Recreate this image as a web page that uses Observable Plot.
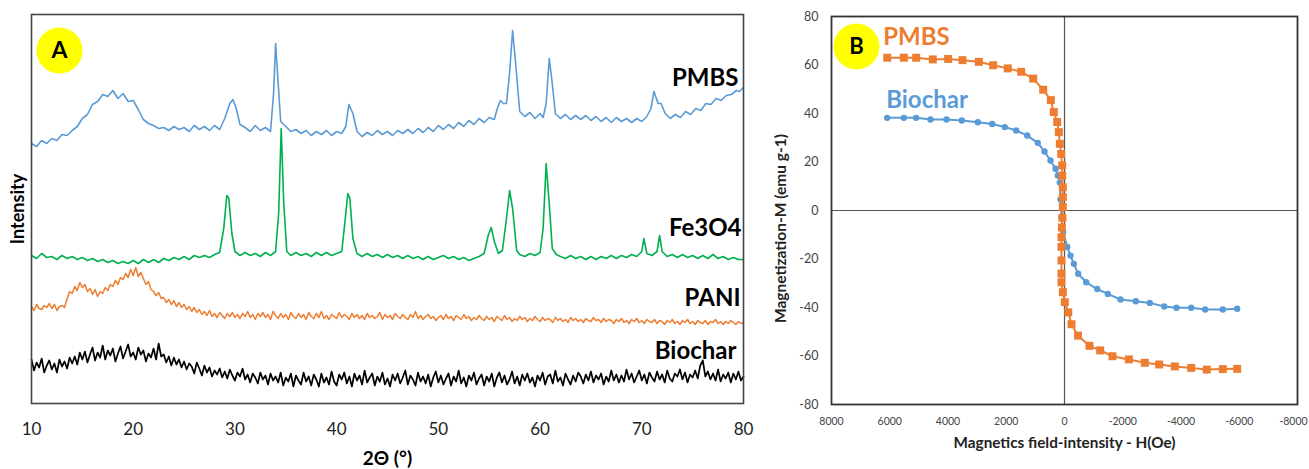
<!DOCTYPE html>
<html>
<head>
<meta charset="utf-8">
<script src="https://cdn.jsdelivr.net/npm/d3@7"></script>
<script src="https://cdn.jsdelivr.net/npm/@observablehq/plot@0.6"></script>
<style>
  html, body { margin: 0; padding: 0; background: #fff; }
  #wrap { position: relative; width: 1309px; height: 469px; overflow: hidden; font-family: Lato, "Open Sans", sans-serif; }
  #panelA { position: absolute; left: 0; top: 0; }
  #panelB { position: absolute; left: 770px; top: 0; }
</style>
</head>
<body>
<div id="wrap"><div id="panelA"></div><div id="panelB"></div></div>
<script>
// ---------- Panel A: XRD patterns (intensity in arbitrary, stacked units) ----------
const xrdTicks = [10, 20, 30, 40, 50, 60, 70, 80];
const xrdSamples = ["PMBS", "Fe3O4", "PANI", "Biochar"];

const pmbsAngle = [10,10.5,11,11.5,12,12.5,13,13.5,14,14.5,15,15.5,16,16.5,17,17.5,18,18.5,19,19.5,20,20.5,21,21.5,22,22.5,23,23.5,24,24.5,25,25.5,26,26.5,27,27.5,28,28.5,29,29.5,29.8,30.1,30.5,31,31.5,32,32.5,33,33.5,33.8,34.0,34.2,34.5,35,35.5,36,36.5,37,37.5,38,38.5,39,39.5,40,40.5,40.9,41.2,41.6,42,42.5,43,43.5,44,44.5,45,45.5,46,46.5,47,47.5,48,48.5,49,49.5,50,50.5,51,51.5,52,52.5,53,53.5,54,54.5,55,55.5,55.8,56.1,56.4,56.7,57.0,57.3,57.6,58,58.5,59,59.5,60,60.3,60.6,60.9,61.2,61.5,62,62.5,63,63.5,64,64.5,65,65.5,66,66.5,67,67.5,68,68.5,69,69.5,70,70.5,70.9,71.2,71.6,71.9,72.3,72.8,73.3,73.8,74.3,74.8,75.3,75.8,76.3,76.8,77.3,77.8,78.3,78.8,79.3,79.6,80];
const pmbsIntensity = [260,257,263,260,265,263,269,268,273,277,285,289,299,302,309,307,313,305,310,302,303,294,284,280,278,275,276,273,277,274,276,272,278,274,277,273,278,274,285,300,304,296,279,276,272,278,273,276,272,310,360,328,282,277,272,274,270,273,268,272,269,273,268,272,270,277,299,290,272,267,271,268,273,269,272,268,273,270,274,270,275,271,276,272,278,274,279,275,281,277,283,279,285,281,286,284,295,303,300,300,330,373,340,292,287,291,285,290,286,300,345,320,290,285,289,284,288,284,288,283,287,282,286,281,286,282,285,281,285,282,287,295,312,300,300,290,285,289,286,292,289,295,293,300,299,305,303,308,309,313,312,316,318];

const fe3o4Angle = [10,10.5,11,11.5,12,12.5,13,13.5,14,14.5,15,15.5,16,16.5,17,17.5,18,18.5,19,19.5,20,20.5,21,21.5,22,22.5,23,23.5,24,24.5,25,25.5,26,26.5,27,27.5,28,28.5,28.9,29.2,29.4,29.7,30,30.5,31,31.5,32,32.5,33,33.5,34,34.3,34.55,34.8,35.1,35.5,36,36.5,37,37.5,38,38.5,39,39.5,40,40.5,40.8,41.1,41.3,41.6,42,42.5,43,43.5,44,44.5,45,45.5,46,46.5,47,47.5,48,48.5,49,49.5,50,50.5,51,51.5,52,52.5,53,53.5,54,54.5,54.9,55.2,55.5,55.9,56.3,56.7,57.0,57.3,57.7,58,58.5,59,59.5,60,60.3,60.6,60.9,61.2,61.6,62,62.5,63,63.5,64,64.5,65,65.5,66,66.5,67,67.5,68,68.5,69,69.5,70,70.2,70.5,71,71.5,71.75,72,72.5,73,73.5,74,74.5,75,75.5,76,76.5,77,77.5,78,78.5,79,79.5,80];
const fe3o4Intensity = [148,145,150,146,147,144,148,145,147,144,146,143,145,142,144,141,143,140,142,140,143,140,144,141,144,141,145,143,146,144,147,144,148,146,148,146,149,151,175,208,205,170,152,148,151,148,150,147,151,148,152,190,275,200,152,148,151,148,150,147,151,148,151,148,150,152,180,210,205,165,150,147,150,147,149,146,149,146,148,145,148,145,147,144,147,144,146,148,145,147,144,146,143,145,147,150,168,176,162,150,153,185,213,195,153,149,147,150,148,151,175,240,200,155,149,147,145,148,145,147,144,147,144,147,145,148,145,148,146,149,147,152,165,150,148,152,168,152,147,149,146,149,146,148,145,148,145,149,145,147,144,146,144,144];

// PANI and Biochar are read on a regular 0.25° grid
const paniAngle = d3.range(0, 281).map(i => 10 + i * 0.25);
const paniIntensity = [
97,93,99,95, 94,98,96,100, 95,99,93,97, 98,96,105,112, 110,117,113,121, 116,119,112,115, 109,114,107,112, 110,116,113,119, 117,123,119,126, 124,130,126,134,
128,136,127,131, 125,119,122,114, 112,108,111,105, 106,101,104,99, 103,97,101,96, 99,94,97,92, 96,91,94,89, 92,88,93,87, 90,86,91,88, 85,90,87,91,
86,89,85,90, 87,92,86,89, 84,90,87,91, 86,89,84,92, 88,85,90,86, 89,84,91,87, 85,90,86,89, 84,91,87,85, 90,86,92,85, 88,84,89,87,
85,91,86,89, 87,84,90,86, 89,85,88,84, 90,86,88,85, 87,91,84,89, 86,88,84,90, 87,85,89,86, 84,89,86,92, 85,88,84,87, 89,85,87,83,
86,88,84,89, 85,87,83,88, 86,84,89,85, 87,83,86,84, 88,85,83,87, 84,86,82,87, 85,83,88,84, 86,82,85,83, 87,84,86,82, 85,83,87,84,
82,86,83,85, 84,81,86,83, 85,82,84,81, 86,83,85,82, 84,81,85,83, 82,86,83,84, 81,85,82,84, 83,80,84,82, 85,81,83,80, 84,82,85,81,
83,80,84,82, 81,84,80,83, 82,79,83,81, 84,80,82,79, 83,81,84,80, 82,79,83,81, 80,83,79,82, 81,84,80,82, 79,82,80,83, 81,79,82,80, 81];

const biocharAngle = d3.range(0, 281).map(i => 10 + i * 0.25);
const biocharIntensity = [
44,33,41,36, 45,31,38,43, 34,40,31,44, 37,42,35,46, 40,47,39,51, 44,52,41,49, 56,43,51,46, 58,44,53,48, 55,42,50,57, 45,52,59,47,
51,44,56,49, 53,42,50,46, 55,44,60,47, 49,41,47,38, 46,39,44,36, 42,34,40,37, 30,41,35,28, 38,31,36,27, 33,29,35,26, 32,25,34,28,
23,31,27,35, 24,29,21,30, 26,20,31,24, 28,19,30,23, 27,21,31,18, 26,22,30,17, 28,23,19,31, 22,27,18,29, 24,17,30,21, 26,19,32,22,
18,29,24,31, 20,27,17,30, 23,28,19,33, 21,26,30,18, 27,22,31,19, 25,17,29,23, 30,20,26,33, 19,28,24,18, 31,22,27,20, 29,17,26,32,
21,28,19,25, 30,18,27,22, 33,20,26,17, 28,23,31,19, 25,29,18,27, 22,30,17,26, 31,21,28,19, 24,32,20,27, 18,29,23,30, 21,26,17,28,
23,31,19,27, 29,20,33,22, 26,18,30,24, 19,28,22,31, 27,20,29,23, 32,21,28,24, 30,19,27,22, 33,23,29,21, 28,22,34,24, 30,21,27,33,
23,29,20,31, 26,22,32,24, 29,21,33,25, 22,30,27,34, 24,31,21,29, 26,33,25,38, 43,27,32,24, 30,23,34,22, 29,25,31,21, 30,24,32,23, 27];

const xrdColors = { PMBS: "#5B9BD5", Fe3O4: "#00B050", PANI: "#ED7D31", Biochar: "#000000" };
const xrdWidths = { PMBS: 1.6, Fe3O4: 1.6, PANI: 1.5, Biochar: 1.7 };
// label offsets (px) relative to the last point of each trace
const xrdLabelDy = { PMBS: -9, Fe3O4: -31, PANI: -24, Biochar: -25 };
const xrdLabelDx = { PMBS: -5, Fe3O4: -2, PANI: -3, Biochar: -7 };

const rows = (angles, values, name) => angles.map((a, i) => ({ angle: a, intensity: values[i], sample: name }));
const xrdSeries = {
  PMBS: rows(pmbsAngle, pmbsIntensity, "PMBS"),
  Fe3O4: rows(fe3o4Angle, fe3o4Intensity, "Fe3O4"),
  PANI: rows(paniAngle, paniIntensity, "PANI"),
  Biochar: rows(biocharAngle, biocharIntensity, "Biochar")
};

const font = "Lato, 'Open Sans', sans-serif";

const xrdMarks = [
  Plot.axisX({ ticks: xrdTicks, tickSize: 0, tickPadding: 19, fontSize: 17, fill: "#222", label: null }),
  Plot.axisY({ ticks: [], label: null })
];
for (const s of xrdSamples) {
  xrdMarks.push(Plot.line(xrdSeries[s], { x: "angle", y: "intensity", stroke: xrdColors[s], strokeWidth: xrdWidths[s] }));
}
for (const s of xrdSamples) {
  const last = xrdSeries[s][xrdSeries[s].length - 1];
  xrdMarks.push(Plot.text([last], {
    x: "angle", y: "intensity", text: d => d.sample, textAnchor: "end",
    dx: xrdLabelDx[s], dy: xrdLabelDy[s], fontSize: 24, fontWeight: "bold", fill: "#000"
  }));
}
xrdMarks.push(
  Plot.frame({ stroke: "#444", strokeWidth: 1.6 }),
  Plot.dot(["A"], { frameAnchor: "top-left", dx: 28, dy: 36, r: 23, fill: "#FFFF00", stroke: "none" }),
  Plot.text(["A"], { frameAnchor: "top-left", dx: 28, dy: 36, textAnchor: "middle", lineAnchor: "middle", text: d => d, fontSize: 23, fontWeight: "bold", fill: "#000" }),
  Plot.text(["2Θ (°)"], { frameAnchor: "bottom", dy: 55, textAnchor: "middle", lineAnchor: "middle", text: d => d, fontSize: 19, fontWeight: "bold", fill: "#000" }),
  Plot.text(["Intensity"], { frameAnchor: "left", dx: -13, rotate: -90, textAnchor: "middle", lineAnchor: "middle", text: d => d, fontSize: 18, fontWeight: "bold", fill: "#000" })
);

const plotA = Plot.plot({
  width: 770, height: 469,
  marginLeft: 31, marginRight: 27, marginTop: 14, marginBottom: 66,
  style: { fontFamily: font, background: "#fff", overflow: "visible" },
  x: { domain: [10, 80] },
  y: { domain: [0, 389] },
  marks: xrdMarks
});
document.getElementById("panelA").appendChild(plotA);

// ---------- Panel B: magnetization curves ----------
const fieldTicks = [8000, 6000, 4000, 2000, 0, -2000, -4000, -6000, -8000];
const magTicks = [-80, -60, -40, -20, 0, 20, 40, 60, 80];

const pmbsField = [6088,5517,5093,4522,3994,3502,2942,2449,1947,1487,1075,731,470,367,251,195,160,113,79,79,57,57,57,70,90,103,103,103,103,103,57,-10,-130,-240,-465,-858,-1225,-1648,-2209,-2758,-3251,-3788,-4350,-4886,-5436,-5929];
const pmbsMag = [63.0,63.0,63.0,62.3,62.5,62.0,61.3,59.9,58.6,57.2,54.4,49.8,45.5,40.6,36.5,32.3,27.5,23.3,18.6,14.4,9.6,5.5,1.4,-3.0,-7.0,-11.0,-15.0,-20.6,-26.0,-29.6,-33.7,-37.8,-42.0,-46.9,-51.6,-55.8,-57.7,-60.1,-61.4,-62.8,-63.5,-64.3,-64.9,-65.6,-65.4,-65.3];

const biocharField = [6088,5517,5093,4601,4052,3526,2977,2483,2050,1659,1281,917,687,481,309,230,161,137,103,45,-92,-206,-320,-470,-745,-1123,-1487,-1923,-2448,-2929,-3423,-3845,-4350,-4830,-5436,-5929];
const biocharMag = [38.2,38.2,38.2,37.5,37.5,37.1,36.4,35.7,34.4,33.0,30.9,27.9,24.3,20.6,17.2,14.4,11.5,4.6,-2.8,-8.9,-15.0,-18.6,-22.0,-26.1,-29.6,-32.4,-34.4,-36.7,-37.4,-38.1,-39.6,-40.1,-40.1,-40.8,-40.8,-40.5];

const magColors = { PMBS: "#ED7D31", Biochar: "#5B9BD5" };
const magRows = (f, m, name) => f.map((h, i) => ({ field: h, mag: m[i], sample: name }));
const pmbsMagRows = magRows(pmbsField, pmbsMag, "PMBS");
const biocharMagRows = magRows(biocharField, biocharMag, "Biochar");

const plotB = Plot.plot({
  width: 539, height: 469,
  marginLeft: 61, marginRight: 12, marginTop: 16, marginBottom: 65,
  style: { fontFamily: font, background: "#fff", overflow: "visible" },
  x: { domain: [8000, -8000] },
  y: { domain: [-80, 80] },
  marks: [
    Plot.ruleY([0], { stroke: "#555", strokeWidth: 1.2 }),
    Plot.ruleX([0], { stroke: "#555", strokeWidth: 1.2 }),
    Plot.axisX({ ticks: fieldTicks.slice(0, -1), tickSize: 0, tickPadding: 13, fontSize: 10.5, fill: "#444", tickFormat: d => String(d), label: null }),
    Plot.axisX({ ticks: fieldTicks.slice(-1), tickSize: 0, tickPadding: 13, fontSize: 10.5, fill: "#444", dx: -4, tickFormat: d => String(d), label: null }),
    Plot.axisY({ ticks: magTicks, tickSize: 0, tickPadding: 13, fontSize: 12.5, fill: "#444", tickFormat: d => String(d), label: null }),
    Plot.frame({ stroke: "#333", strokeWidth: 1.8 }),
    Plot.line(biocharMagRows, { x: "field", y: "mag", stroke: magColors.Biochar, strokeWidth: 2 }),
    Plot.dot(biocharMagRows, { x: "field", y: "mag", r: 3.2, fill: magColors.Biochar, stroke: "none" }),
    Plot.line(pmbsMagRows, { x: "field", y: "mag", stroke: magColors.PMBS, strokeWidth: 2 }),
    Plot.dot(pmbsMagRows, { x: "field", y: "mag", symbol: "square", r: 4.5, fill: magColors.PMBS, stroke: "none" }),
    Plot.text([pmbsMagRows[0]], { x: "field", y: "mag", text: d => d.sample, textAnchor: "start", dx: -4, dy: -20, fontSize: 24, fontWeight: "bold", fill: magColors.PMBS }),
    Plot.text([biocharMagRows[0]], { x: "field", y: "mag", text: d => d.sample, textAnchor: "start", dx: -1, dy: -18, fontSize: 24, fontWeight: "bold", fill: magColors.Biochar }),
    Plot.dot(["B"], { frameAnchor: "top-left", dx: 25, dy: 30, r: 23, fill: "#FFFF00", stroke: "none" }),
    Plot.text(["B"], { frameAnchor: "top-left", dx: 25, dy: 30, textAnchor: "middle", lineAnchor: "middle", text: d => d, fontSize: 22, fontWeight: "bold", fill: "#000" }),
    Plot.text(["Magnetics field-intensity - H(Oe)"], { frameAnchor: "bottom", dy: 39, textAnchor: "middle", lineAnchor: "middle", text: d => d, fontSize: 15.3, fontWeight: "bold", fill: "#222" }),
    Plot.text(["Magnetization-M (emu g-1)"], { frameAnchor: "left", dx: -50, dy: 18, rotate: -90, textAnchor: "middle", lineAnchor: "middle", text: d => d, fontSize: 15.5, fontWeight: "bold", fill: "#222" })
  ]
});
document.getElementById("panelB").appendChild(plotB);
</script>
</body>
</html>
